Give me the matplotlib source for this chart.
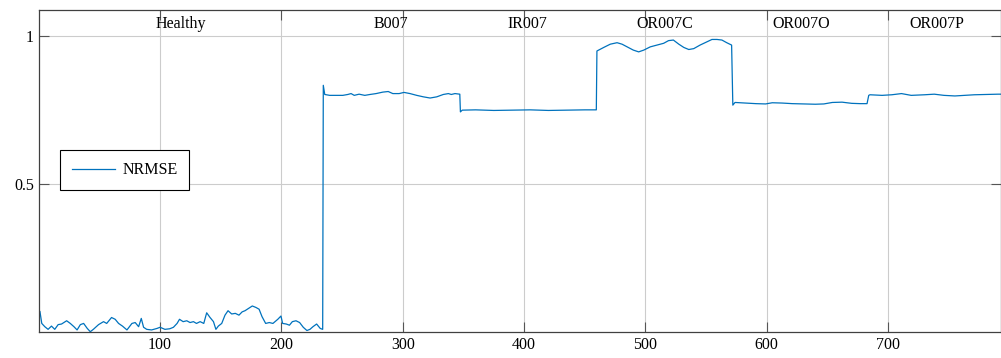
import numpy as np
import matplotlib
matplotlib.use('Agg')
import matplotlib.pyplot as plt

plt.rcParams['font.family'] = ['Liberation Serif', 'DejaVu Serif']
plt.rcParams['font.size'] = 11

# NRMSE trace (sample index, value)
healthy_x = [1, 2.5, 5, 7.7, 10.5, 13.2, 16, 18.8, 23, 26, 29, 31.6, 34.3, 37, 40, 42.5, 45,
             49.3, 53.4, 56, 60, 63, 65.8, 69, 72.7, 76.8, 79.5, 82.3, 84.5, 86.4, 89, 93, 97.4,
             100, 104, 108, 111, 114, 116, 119, 122, 124.7, 127.5, 130, 133, 136, 138.4, 141,
             144, 146, 148, 150.8, 153.5, 156, 159, 162, 165, 167.6, 170, 173, 176, 179, 181.6,
             184, 187, 190, 193, 197, 199.6, 201, 204, 206.6, 209, 212, 215, 218, 221, 223.5,
             226, 229, 232, 234]
healthy_y = [0.069, 0.029, 0.018, 0.009, 0.020, 0.009, 0.025, 0.027, 0.038, 0.029, 0.018, 0.007,
             0.025, 0.029, 0.012, 0.001, 0.009, 0.025, 0.035, 0.029, 0.049, 0.043, 0.029, 0.020,
             0.007, 0.029, 0.032, 0.018, 0.046, 0.016, 0.009, 0.007, 0.012, 0.016, 0.009, 0.011,
             0.016, 0.029, 0.043, 0.035, 0.038, 0.032, 0.035, 0.029, 0.035, 0.029, 0.065, 0.050,
             0.035, 0.009, 0.020, 0.029, 0.057, 0.072, 0.061, 0.063, 0.057, 0.068, 0.072, 0.080,
             0.088, 0.083, 0.077, 0.052, 0.029, 0.032, 0.029, 0.043, 0.054, 0.029, 0.027, 0.023,
             0.035, 0.038, 0.032, 0.016, 0.005, 0.009, 0.018, 0.027, 0.012, 0.009]

b007_x = [234.5, 235.7, 239.8, 245, 250.6, 254.7, 257.4, 260, 264, 268.7, 273, 278, 283.6, 288,
          291.8, 297, 301, 306, 311.5, 317, 322.5, 328, 333.4, 337.6, 340, 343, 347]
b007_y = [0.834, 0.803, 0.800, 0.800, 0.800, 0.803, 0.806, 0.800, 0.804, 0.800, 0.803, 0.806,
          0.811, 0.813, 0.806, 0.806, 0.810, 0.806, 0.800, 0.795, 0.791, 0.795, 0.803, 0.806,
          0.803, 0.806, 0.804]

ir007_x = [347.5, 349, 360, 375, 390, 405, 420, 435, 450, 459.5]
ir007_y = [0.744, 0.750, 0.751, 0.749, 0.750, 0.751, 0.749, 0.750, 0.751, 0.751]

or007c_x = [460, 465.6, 471, 476.6, 480.7, 484.8, 490, 494.4, 498.6, 504, 509.5, 515, 519, 523,
            527.5, 531.6, 535.7, 539.8, 545, 550.7, 554.8, 558.9, 563, 567, 571]
or007c_y = [0.950, 0.962, 0.973, 0.978, 0.973, 0.964, 0.953, 0.947, 0.953, 0.964, 0.970, 0.976,
            0.985, 0.987, 0.973, 0.962, 0.955, 0.958, 0.970, 0.981, 0.989, 0.989, 0.987, 0.978,
            0.970]

or007o_x = [572, 573.8, 583, 591, 599, 604.5, 612.6, 621, 631.6, 640, 647, 654, 662, 670, 677,
            682.6]
or007o_y = [0.767, 0.776, 0.774, 0.772, 0.771, 0.775, 0.774, 0.772, 0.771, 0.770, 0.771, 0.776,
            0.777, 0.773, 0.772, 0.772]

or007p_x = [684, 685, 695, 703, 711, 719, 730, 738, 746, 755, 763, 771, 779.6, 790.6, 796]
or007p_y = [0.800, 0.802, 0.800, 0.802, 0.806, 0.800, 0.802, 0.804, 0.800, 0.798, 0.800, 0.802,
            0.803, 0.804, 0.804]

classes = ['Healthy', 'B007', 'IR007', 'OR007C', 'OR007O', 'OR007P']
class_centres = [117, 290, 403, 516, 628, 740]

x = healthy_x + b007_x + ir007_x + or007c_x + or007o_x + or007p_x
y = healthy_y + b007_y + ir007_y + or007c_y + or007o_y + or007p_y

fig = plt.figure(figsize=(10.01, 3.58), dpi=100)
ax = fig.add_axes([0.0387, 0.0726, 0.9613, 0.899])

ax.plot(x, y, color='#0072BD', lw=0.9, label='NRMSE')

for name, xc in zip(classes, class_centres):
    ax.text(xc, 1.04, name, ha='center', va='center', fontsize=11.5)

ax.set_xlim(0, 793)
ax.set_ylim(0, 1.088)
ax.set_xticks([100, 200, 300, 400, 500, 600, 700])
ax.set_yticks([0.5, 1])
ax.set_yticklabels(['0.5', '1'])
ax.grid(True, color='#cccccc', lw=0.8)
ax.set_axisbelow(True)
ax.tick_params(direction='in', length=7, width=0.8, color='#555555',
               top=True, right=True, labelsize=11.5)
for s in ax.spines.values():
    s.set_color('#404040')
    s.set_linewidth(0.9)

leg = ax.legend(loc='lower left', bbox_to_anchor=(0.022, 0.441), fancybox=False,
                edgecolor='black', framealpha=1, handlelength=2.7, handletextpad=0.45,
                borderpad=0.75, borderaxespad=0, fontsize=11.5)
leg.get_frame().set_linewidth(0.8)

fig.savefig('out.png', dpi=100)
